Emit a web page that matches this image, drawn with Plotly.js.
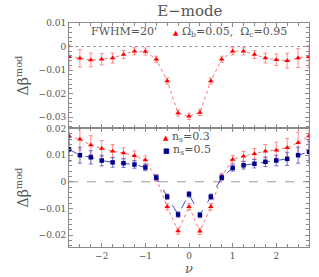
<!DOCTYPE html>
<html><head><meta charset="utf-8">
<script src="https://cdn.plot.ly/plotly-3.0.1.min.js"></script>
<style>html,body{margin:0;padding:0;background:#fff}#c{width:319px;height:277px}</style>
</head><body><div id="c"></div>
<script>
const nu = [-2.75,-2.5,-2.25,-2.0,-1.75,-1.5,-1.25,-1.0,-0.75,-0.5,-0.25,0,0.25,0.5,0.75,1.0,1.25,1.5,1.75,2.0,2.25,2.5,2.75];
// top panel: Omega_b=0.05, Omega_c=0.95
const topVal = [-0.0043,-0.0050,-0.0057,-0.0054,-0.0049,-0.0034,-0.0020,-0.0021,-0.0054,-0.0146,-0.0282,-0.0296,-0.0280,-0.0146,-0.0054,-0.0020,-0.0020,-0.0034,-0.0049,-0.0056,-0.0060,-0.0049,-0.0043];
const topErr = [0.0050,0.0037,0.0029,0.0024,0.0021,0.0017,0.0015,0.0015,0.0013,0.0013,0.0013,0.0013,0.0013,0.0013,0.0013,0.0015,0.0015,0.0017,0.0021,0.0024,0.0032,0.0040,0.0047];
// bottom panel: n_s=0.3 and n_s=0.5
const ns03 = [0.0172,0.0160,0.0138,0.0125,0.0115,0.0108,0.0098,0.0082,0.0014,-0.0094,-0.0185,-0.0094,-0.0186,-0.0094,0.0020,0.0084,0.0096,0.0105,0.0115,0.0119,0.0128,0.0147,0.0172];
const ns03Err = [0.0050,0.0040,0.0035,0.0030,0.0025,0.0020,0.0018,0.0015,0.0012,0.0012,0.0012,0.0012,0.0012,0.0012,0.0012,0.0015,0.0018,0.0020,0.0025,0.0030,0.0035,0.0040,0.0050];
const ns05 = [0.0122,0.0100,0.0092,0.0080,0.0073,0.0070,0.0065,0.0054,0.0016,-0.0056,-0.0123,-0.0047,-0.0125,-0.0056,0.0016,0.0052,0.0062,0.0068,0.0075,0.0080,0.0086,0.0100,0.0113];
const ns05Err = [0.0045,0.0030,0.0025,0.0020,0.0018,0.0016,0.0014,0.0012,0.0010,0.0010,0.0010,0.0010,0.0010,0.0010,0.0010,0.0012,0.0014,0.0016,0.0018,0.0020,0.0025,0.0030,0.0040];
const xTicks = [-2,-1,0,1,2];

const RED = '#ff0000', RED_L = '#ff7070', BLUE = '#00008b', BLUE_L = '#4a4ac8';
const GRAY = '#555', FRAME = '#8a8a8a';
const FONT = 'DejaVu Serif, Liberation Serif, serif';

const traces = [
  {x: nu, y: topVal, xaxis:'x2', yaxis:'y2', mode:'lines+markers', name:'Ωb=0.05, Ωc=0.95',
   line:{color:RED_L, width:1, dash:'dot'}, marker:{symbol:'triangle-up', size:5, color:RED},
   error_y:{type:'data', array: topErr, visible:true, color:RED_L, thickness:0.8, width:2}, showlegend:false},
  {x: nu, y: ns03, xaxis:'x', yaxis:'y', mode:'lines+markers', name:'ns=0.3',
   line:{color:RED_L, width:1, dash:'dot'}, marker:{symbol:'triangle-up', size:5, color:RED},
   error_y:{type:'data', array: ns03Err, visible:true, color:RED_L, thickness:0.8, width:2}, showlegend:false},
  {x: nu, y: ns05, xaxis:'x', yaxis:'y', mode:'lines+markers', name:'ns=0.5',
   line:{color:BLUE_L, width:1, dash:'dash'}, marker:{symbol:'square', size:4.5, color:BLUE},
   error_y:{type:'data', array: ns05Err, visible:true, color:BLUE_L, thickness:0.8, width:2}, showlegend:false}
];

const axBase = {showline:true, linecolor:FRAME, linewidth:1, mirror:'allticks', ticks:'inside',
  tickcolor:FRAME, ticklen:4, showgrid:false, zeroline:false,
  tickfont:{family:FONT, size:9, color:GRAY}};

const layout = {
  width:319, height:277, margin:{l:69, r:10, t:23, b:30},
  paper_bgcolor:'#fff', plot_bgcolor:'#fff', showlegend:false,
  font:{family:FONT, color:GRAY},
  title:{text:'E−mode', font:{family:FONT, size:15, color:GRAY}, x:0.595, xanchor:'center', y:0.962, yanchor:'middle'},
  xaxis: Object.assign({}, axBase, {anchor:'y', range:[-2.75,2.75], tickvals:xTicks, ticktext:xTicks.map(v=>v<0?'−'+(-v):String(v)),
    minor:{dtick:0.25, tick0:0, ticks:'inside', ticklen:3, tickcolor:FRAME},
    title:{text:'<i>ν</i>', font:{family:FONT, size:13, color:GRAY}, standoff:2}}),
  xaxis2: Object.assign({}, axBase, {anchor:'y2', matches:'x', range:[-2.75,2.75], tickvals:xTicks, showticklabels:false,
    minor:{dtick:0.25, tick0:0, ticks:'inside', ticklen:3, tickcolor:FRAME}}),
  yaxis: Object.assign({}, axBase, {domain:[0,0.531], range:[-0.0245,0.0202], tickvals:[-0.02,-0.01,0,0.01,0.02],
    minor:{dtick:0.002, ticks:'inside', ticklen:3, tickcolor:FRAME},
    title:{text:'Δβ<sup>mod</sup>', font:{family:FONT, size:14, color:GRAY}, standoff:6}}),
  yaxis2: Object.assign({}, axBase, {domain:[0.531,1], range:[-0.0346,0.01], tickvals:[-0.03,-0.02,-0.01,0,0.01],
    minor:{dtick:0.002, ticks:'inside', ticklen:3, tickcolor:FRAME},
    title:{text:'Δβ<sup>mod</sup>', font:{family:FONT, size:14, color:GRAY}, standoff:6}}),
  shapes:[
    {type:'line', xref:'x2 domain', yref:'y2', x0:0, x1:1, y0:0, y1:0, line:{color:'#999', width:1, dash:'dot'}, layer:'below'},
    {type:'line', xref:'x domain', yref:'y', x0:0, x1:1, y0:0, y1:0, line:{color:'#999', width:1, dash:'dash'}, layer:'below'}
  ],
  annotations:[
    {xref:'x2 domain', yref:'y2 domain', x:0.085, y:0.915, xanchor:'left', yanchor:'middle', showarrow:false,
     text:"FWHM=20'", font:{family:FONT, size:11, color:GRAY}},
    {xref:'x2 domain', yref:'y2 domain', x:0.425, y:0.915, xanchor:'left', yanchor:'middle', showarrow:false,
     text:'<span style="color:#ff0000;font-size:7px">▲</span> Ω<sub>b</sub>=0.05,  Ω<sub>c</sub>=0.95', font:{family:FONT, size:11, color:GRAY}},
    {xref:'x domain', yref:'y domain', x:0.385, y:0.925, xanchor:'left', yanchor:'middle', showarrow:false,
     text:'<span style="color:#ff0000;font-size:7px">▲</span> n<sub>s</sub>=0.3', font:{family:FONT, size:11, color:GRAY}},
    {xref:'x domain', yref:'y domain', x:0.385, y:0.815, xanchor:'left', yanchor:'middle', showarrow:false,
     text:'<span style="color:#00008b;font-size:7px">■</span> n<sub>s</sub>=0.5', font:{family:FONT, size:11, color:GRAY}}
  ]
};
Plotly.newPlot('c', traces, layout, {displayModeBar:false, staticPlot:true});
</script></body></html>
